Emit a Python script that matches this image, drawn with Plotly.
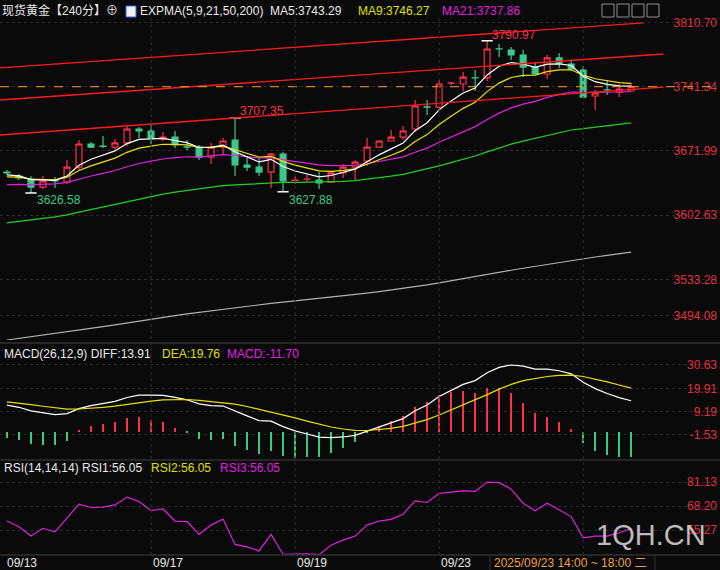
import plotly.graph_objects as go

# --- data (240-min spot gold) ---
opens = [3649.2, 3644.9, 3641.7, 3633.0, 3640.6, 3638.4, 3654.6, 3679.5, 3677.3, 3676.2,
         3680.6, 3695.7, 3693.5, 3684.9, 3687.0, 3676.5, 3676.2, 3665.4, 3676.2, 3683.8,
         3656.8, 3654.6, 3649.2, 3668.7, 3640.3, 3641.5, 3640.6, 3638.4, 3648.2, 3654.6,
         3661.1, 3676.2, 3682.7, 3687.0, 3695.7, 3719.6, 3719.4, 3745.2, 3744.3, 3751.0,
         3750.8, 3782.3, 3781.0, 3775.6, 3762.6, 3755.1, 3772.4, 3765.9, 3759.4, 3731.3,
         3738.0, 3735.6, 3736.7]
highs = [3651.4, 3647.1, 3644.9, 3644.9, 3643.8, 3662.2, 3683.8, 3681.6, 3688.1, 3684.9,
         3698.9, 3697.8, 3700.0, 3692.4, 3693.5, 3683.8, 3678.4, 3680.6, 3686.0, 3707.35,
         3664.4, 3664.4, 3669.8, 3670.8, 3644.9, 3646.0, 3649.2, 3649.2, 3657.9, 3662.2,
         3686.0, 3683.2, 3694.6, 3698.9, 3727.0, 3727.0, 3748.6, 3746.4, 3757.2, 3759.4,
         3790.97, 3787.5, 3784.2, 3781.0, 3768.0, 3775.6, 3777.8, 3770.2, 3763.7, 3737.8,
         3748.6, 3744.3, 3745.4]
lows = [3646.0, 3640.6, 3626.58, 3630.9, 3632.0, 3636.3, 3651.4, 3675.2, 3675.2, 3673.0,
        3677.3, 3686.0, 3679.5, 3682.7, 3675.2, 3673.0, 3662.2, 3657.9, 3667.6, 3644.9,
        3650.3, 3644.9, 3632.0, 3627.88, 3636.3, 3638.4, 3630.9, 3637.4, 3642.8, 3640.6,
        3655.7, 3675.8, 3682.7, 3683.8, 3692.4, 3710.8, 3716.2, 3743.2, 3736.7, 3736.7,
        3747.5, 3773.4, 3770.2, 3751.8, 3755.1, 3749.7, 3761.6, 3758.3, 3730.2, 3716.2,
        3732.4, 3730.2, 3736.7]
closes = [3648.2, 3642.8, 3633.0, 3639.5, 3639.5, 3654.6, 3679.5, 3676.2, 3677.0, 3680.6,
          3695.7, 3693.5, 3686.0, 3687.0, 3678.4, 3676.2, 3665.4, 3676.2, 3682.7, 3656.8,
          3654.6, 3649.2, 3668.7, 3639.5, 3640.6, 3641.7, 3637.4, 3648.2, 3654.6, 3660.0,
          3676.2, 3682.7, 3687.0, 3693.5, 3720.5, 3719.4, 3744.3, 3745.4, 3751.8, 3750.8,
          3782.1, 3782.1, 3775.6, 3762.6, 3755.1, 3772.4, 3767.0, 3760.5, 3730.2, 3734.6,
          3737.8, 3738.9, 3741.34]
rsi = [60.1, 57.0, 52.0, 56.2, 54.3, 61.6, 69.2, 67.4, 67.6, 68.8,
       73.0, 70.6, 65.7, 66.6, 60.1, 59.8, 52.9, 57.9, 61.2, 47.5,
       46.2, 44.0, 52.9, 42.2, 42.4, 42.4, 42.0, 47.1, 49.8, 52.0,
       57.9, 60.1, 61.0, 63.8, 71.0, 70.1, 75.0, 75.7, 76.4, 76.1,
       81.1, 80.8, 77.3, 69.7, 65.6, 69.7, 66.1, 62.5, 51.1, 52.0,
       52.0, 53.8, 56.05]

# EMA starting values (read at the left edge of the chart)
EMA_SEEDS = {5: 3645.0, 9: 3643.0, 21: 3634.0, 50: 3592.0, 200: 3466.0}
EMA_COLORS = {5: "#FFFFFF", 9: "#F0E000", 21: "#E020E0", 50: "#20D020", 200: "#B0B0B0"}
MACD_SEEDS = dict(ema12=3643.0, ema26=3630.3, dea=14.0)

# channel lines: (index0, price0, index1, price1)
channels = [(-0.6, 3761.6, 53.0, 3810.2),
            (-0.6, 3727.0, 54.7, 3776.7),
            (-0.6, 3689.2, 54.7, 3741.0)]
last_price = 3741.34

price_ticks = [3810.70, 3741.34, 3671.99, 3602.63, 3533.28, 3494.08]
macd_ticks = [30.63, 19.91, 9.19, -1.53]
rsi_ticks = [81.13, 68.20, 55.27]
date_idx = [-0.2, 12, 24, 36]
date_lbl = ["09/13", "09/17", "09/19", "09/23"]
day_lines = [12, 24, 36, 48]

x = list(range(len(closes)))


def ema(vals, n, seed):
    a = 2.0 / (n + 1)
    out, e = [], seed
    for v in vals:
        e = e + a * (v - e)
        out.append(e)
    return out


RED = "#FF3048"
GREEN = "#3CC88A"
BG = "#0A0A0A"
FONT = "Liberation Sans, Noto Sans CJK SC, sans-serif"

fig = go.Figure()

# --- main panel ---
for n in [200, 50, 21, 9, 5]:
    fig.add_trace(go.Scatter(x=x, y=ema(closes, n, EMA_SEEDS[n]), mode="lines",
                             line=dict(color=EMA_COLORS[n], width=1.2), yaxis="y", hoverinfo="skip"))

fig.add_trace(go.Candlestick(
    x=x, open=opens, high=highs, low=lows, close=closes, yaxis="y",
    increasing=dict(line=dict(color=RED, width=1.2), fillcolor=BG),
    decreasing=dict(line=dict(color=GREEN, width=1.2), fillcolor=GREEN),
    whiskerwidth=0, hoverinfo="skip"))

# extremes markers
ext = [highs.index(max(highs)), highs.index(3707.35), lows.index(min(lows)), lows.index(3627.88)]
fig.add_trace(go.Scatter(
    x=ext, y=[highs[ext[0]], highs[ext[1]], lows[ext[2]], lows[ext[3]]], mode="markers",
    marker=dict(symbol="line-ew", size=8, line=dict(color="white", width=1.5)), yaxis="y", hoverinfo="skip"))

# --- MACD ---
e12 = ema(closes, 12, MACD_SEEDS["ema12"])
e26 = ema(closes, 26, MACD_SEEDS["ema26"])
diff = [a - b for a, b in zip(e12, e26)]
dea = ema(diff, 9, MACD_SEEDS["dea"])
hist = [2 * (d - e) for d, e in zip(diff, dea)]
fig.add_trace(go.Bar(x=x, y=hist, width=0.13, yaxis="y2",
                     marker=dict(color=[RED if h >= 0 else GREEN for h in hist], line=dict(width=0)),
                     hoverinfo="skip"))
fig.add_trace(go.Scatter(x=x, y=diff, mode="lines", line=dict(color="white", width=1.2), yaxis="y2"))
fig.add_trace(go.Scatter(x=x, y=dea, mode="lines", line=dict(color="#E8E000", width=1.2), yaxis="y2"))

# --- RSI ---
fig.add_trace(go.Scatter(x=x, y=rsi, mode="lines", line=dict(color="#E020E0", width=1.2), yaxis="y3"))

shapes = []
for x0, p0, x1, p1 in channels:
    shapes.append(dict(type="line", xref="x", yref="y", x0=x0, y0=p0, x1=x1, y1=p1,
                       line=dict(color="#FF1A1A", width=1.3)))
shapes.append(dict(type="line", xref="paper", yref="y", x0=0, x1=1, y0=last_price, y1=last_price,
                   line=dict(color="#FF9A1A", width=1, dash="dash")))
for d in day_lines:
    shapes.append(dict(type="line", xref="x", yref="paper", x0=d, x1=d, y0=1 - 555 / 570, y1=1 - 15 / 570,
                       line=dict(color="#2E2E2E", width=1, dash="dot")))
for py in [343, 460, 555]:
    shapes.append(dict(type="line", xref="paper", yref="paper", x0=0, x1=1, y0=1 - py / 570, y1=1 - py / 570,
                       line=dict(color="#303030", width=1.5)))
for px in [490, 655]:
    shapes.append(dict(type="line", xref="paper", yref="paper", x0=px / 720, x1=px / 720, y0=0, y1=1 - 555 / 570,
                       line=dict(color="#303030", width=1)))
# toolbar boxes top right
for i in range(4):
    shapes.append(dict(type="rect", xref="paper", yref="paper", x0=(602 + 15 * i) / 720, x1=(614 + 15 * i) / 720,
                       y0=1 - 17 / 570, y1=1 - 4 / 570, line=dict(color="#909090", width=1)))
shapes.append(dict(type="rect", xref="paper", yref="paper", x0=126 / 720, x1=136 / 720,
                   y0=1 - 17 / 570, y1=1 - 6 / 570, line=dict(color="#4060FF", width=1), fillcolor="#F0F0F0"))


def txt(s, px, py, color, size=12, anchor="left"):
    return dict(text=s, x=px / 720, y=1 - py / 570, xref="paper", yref="paper", showarrow=False,
                xanchor=anchor, yanchor="middle", font=dict(color=color, size=size, family=FONT))


ann = [
    txt("现货黄金【240分】⊕", 0, 11, "#E8E8E8"),
    txt("EXPMA(5,9,21,50,200)", 138, 11, "#E8E8E8"),
    txt("MA5:3743.29", 268, 11, "#E8E8E8"),
    txt("MA9:3746.27", 356, 11, "#E0E000"),
    txt("MA21:3737.86", 440, 11, "#E020E0"),
    txt("3790.97", 490, 35, RED), txt("3707.35", 238, 111, RED),
    txt("3626.58", 35, 200, GREEN), txt("3627.88", 287, 200, GREEN),
    txt("MACD(26,12,9) DIFF:13.91", 2, 354, "#E8E8E8"),
    txt("DEA:19.76", 160, 354, "#E0E000"),
    txt("MACD:-11.70", 225, 354, "#E020E0"),
    txt("RSI(14,14,14) RSI1:56.05", 2, 468, "#E8E8E8"),
    txt("RSI2:56.05", 149, 468, "#E0E000"),
    txt("RSI3:56.05", 218, 468, "#E020E0"),
    txt("2025/09/23 14:00 ~ 18:00 二", 492, 563, "#F0A040"),
    txt("1QH.CN", 594, 535, "rgba(220,220,220,0.85)", size=29),
]
for i, lbl in zip(date_idx, date_lbl):
    ann.append(dict(text=lbl, x=i, xref="x", y=1 - 563 / 570, yref="paper", showarrow=False,
                    xanchor="left", yanchor="middle", font=dict(color="#E8E8E8", size=12, family=FONT)))

yax = dict(side="right", ticklabelposition="inside", showgrid=True, gridcolor="#2A2A2A", griddash="dot",
           zeroline=False, tickfont=dict(color="#E03040", size=12, family=FONT), fixedrange=True)
fig.update_layout(
    width=720, height=570, margin=dict(l=0, r=0, t=0, b=0),
    paper_bgcolor=BG, plot_bgcolor=BG, showlegend=False,
    xaxis=dict(range=[-0.58, 59.4], showgrid=False, showticklabels=False, zeroline=False,
               rangeslider=dict(visible=False), anchor="y3"),
    yaxis=dict(yax, domain=[1 - 340 / 570, 1 - 15 / 570], range=[3467.8, 3818.8], tickvals=price_ticks,
               ticktext=[f"{v:.2f}" for v in price_ticks]),
    yaxis2=dict(yax, domain=[1 - 458 / 570, 1 - 345 / 570], range=[-12.1, 39.8], tickvals=macd_ticks,
                ticktext=[f"{v:.2f}" for v in macd_ticks]),
    yaxis3=dict(yax, domain=[1 - 555 / 570, 1 - 460 / 570], range=[41.8, 93.0], tickvals=rsi_ticks,
                ticktext=[f"{v:.2f}" for v in rsi_ticks]),
    shapes=shapes, annotations=ann, bargap=0,
)

fig.write_html("out.html", config={"displayModeBar": False})

# remove the page margin so the 720x570 figure fills the window
with open("out.html", "r", encoding="utf-8") as f:
    html = f.read()
html = html.replace("<head>", "<head><style>html,body{margin:0;padding:0;background:#0A0A0A;overflow:hidden;}</style>", 1)
with open("out.html", "w", encoding="utf-8") as f:
    f.write(html)
